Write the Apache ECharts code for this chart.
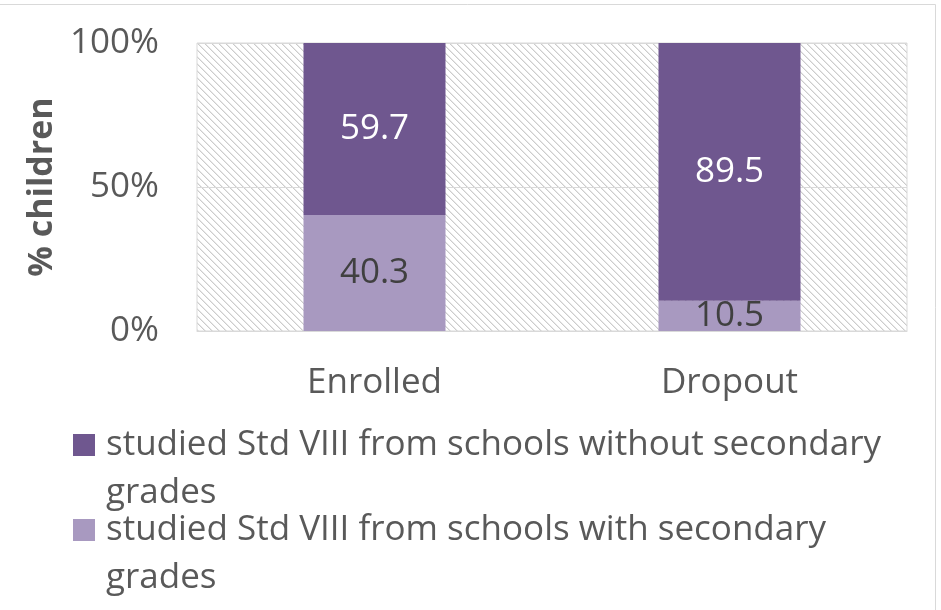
<!DOCTYPE html>
<html>
<head>
<meta charset="utf-8">
<script src="https://cdn.jsdelivr.net/npm/echarts@6/dist/echarts.min.js"></script>
<style>
  html, body { margin: 0; padding: 0; background: #ffffff; }
  #chart { width: 941px; height: 610px; }
</style>
</head>
<body>
<div id="chart"></div>
<script>
// Categories and stacked shares (% of children)
const categories = ['Enrolled', 'Dropout'];
const withSecondary = [40.3, 10.5];
const withoutSecondary = [59.7, 89.5];
const seriesNames = [
  'studied Std VIII from schools without secondary grades',
  'studied Std VIII from schools with secondary grades'
];
const yTicks = [0, 50, 100];

const FONT = '"Open Sans", sans-serif';
const TEXT = '#595959';
const DARK = '#6f578f';
const LIGHT = '#a899c0';
const FS = 35;

// Downward diagonal hatch used to fill the plot area
function hatchTile() {
  const n = 7;
  const c = document.createElement('canvas');
  c.width = n; c.height = n;
  const ctx = c.getContext('2d');
  ctx.fillStyle = '#ffffff';
  ctx.fillRect(0, 0, n, n);
  for (let i = 0; i < n; i++) {
    ctx.fillStyle = '#cccccc';
    ctx.fillRect(i, i, 1, 1);
    ctx.fillStyle = '#e8e8e8';
    ctx.fillRect((i + 1) % n, i, 1, 1);
  }
  return c;
}

const chart = echarts.init(document.getElementById('chart'), null, { renderer: 'canvas' });

// Legend text wraps after "secondary"; the blank first line keeps the
// square beside the first line of text
function wrapName(name) {
  return '\n' + name.replace(' grades', '\ngrades');
}

const legendText = {
  color: TEXT,
  fontFamily: FONT,
  fontSize: FS,
  lineHeight: 48
};

const squareIcon = 'path://M0,0h20v20h-20z';

function legendFor(name, top) {
  return {
    data: [name],
    left: 68, top: top,
    orient: 'vertical',
    icon: squareIcon,
    itemWidth: 34, itemHeight: 22,
    formatter: wrapName,
    textStyle: legendText,
    selectedMode: false
  };
}

chart.setOption({
  animation: false,
  backgroundColor: '#ffffff',
  graphic: [{
    type: 'rect',
    silent: true,
    shape: { x: -5, y: 4.5, width: 940.5, height: 700 },
    style: { fill: 'none', stroke: '#d9d9d9', lineWidth: 1 }
  }],
  grid: {
    left: 197, right: 34, top: 43, bottom: 279,
    show: true,
    backgroundColor: { image: hatchTile(), repeat: 'repeat' },
    borderColor: '#d9d9d9',
    borderWidth: 1
  },
  legend: [legendFor(seriesNames[0], 368), legendFor(seriesNames[1], 453)],
  xAxis: {
    type: 'category',
    data: categories,
    axisLine: { show: true, lineStyle: { color: '#d9d9d9' } },
    axisTick: { show: false },
    axisLabel: { color: TEXT, fontFamily: FONT, fontSize: FS, margin: 35 }
  },
  yAxis: {
    type: 'value',
    min: yTicks[0], max: yTicks[yTicks.length - 1], interval: 50,
    name: '% children',
    nameLocation: 'middle',
    nameGap: 138,
    nameRotate: 90,
    nameTextStyle: { color: TEXT, fontFamily: FONT, fontSize: 34, fontWeight: 'bold' },
    axisLine: { show: false },
    axisTick: { show: false },
    splitLine: { show: true, lineStyle: { color: '#d9d9d9' } },
    axisLabel: { color: TEXT, fontFamily: FONT, fontSize: FS, margin: 38, formatter: '{value}%' }
  },
  series: [{
    name: seriesNames[1],
    type: 'bar',
    stack: 'share',
    data: withSecondary,
    barWidth: '40%',
    itemStyle: { color: LIGHT },
    label: { show: true, position: 'inside', color: '#404040', fontFamily: FONT, fontSize: FS, formatter: p => p.value.toFixed(1) }
  }, {
    name: seriesNames[0],
    type: 'bar',
    stack: 'share',
    data: withoutSecondary,
    barWidth: '40%',
    itemStyle: { color: DARK },
    label: { show: true, position: 'inside', color: '#ffffff', fontFamily: FONT, fontSize: FS, formatter: p => p.value.toFixed(1) }
  }]
});
</script>
</body>
</html>
